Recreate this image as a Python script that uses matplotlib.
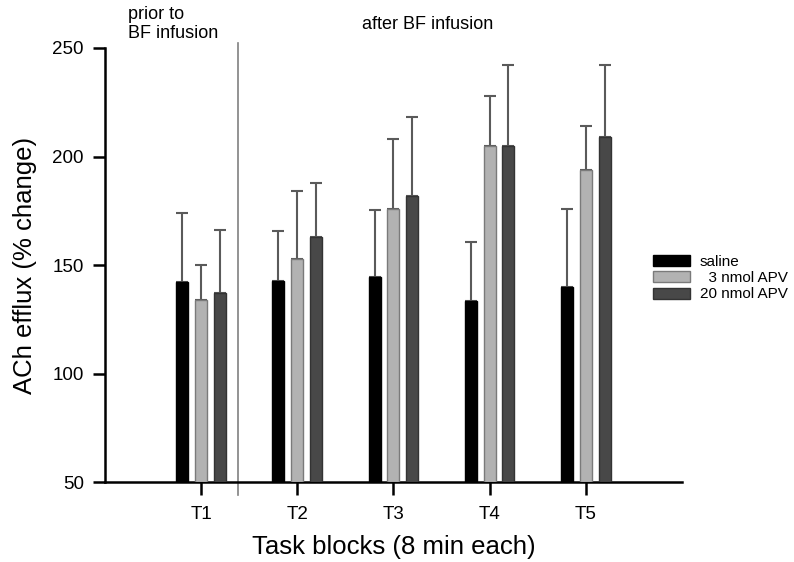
import matplotlib.pyplot as plt
import numpy as np

plt.rcParams["font.family"] = ["Liberation Sans", "DejaVu Sans"]

blocks = ["T1", "T2", "T3", "T4", "T5"]
groups = ["saline", "  3 nmol APV", "20 nmol APV"]
saline = [142.3, 142.6, 144.3, 133.5, 140.0]
saline_top = [174.0, 165.5, 175.5, 160.5, 176.0]
apv3 = [134.0, 152.8, 176.0, 205.0, 194.0]
apv3_top = [150.0, 184.0, 208.0, 228.0, 214.0]
apv20 = [137.0, 163.0, 182.0, 205.0, 209.0]
apv20_top = [166.0, 188.0, 218.0, 242.0, 242.0]

colors = ["#000000", "#b2b2b2", "#484848"]
edges = ["#000000", "#7a7a7a", "#333333"]


def main():
    fig = plt.figure(figsize=(7.94, 5.62), dpi=100)
    ax = fig.add_axes([0.132, 0.1423, 0.727, 0.7723])

    x = np.arange(1, len(blocks) + 1)
    width = 0.125
    offsets = [-0.195, 0.0, 0.195]
    series = [(saline, saline_top), (apv3, apv3_top), (apv20, apv20_top)]
    for i, (vals, tops) in enumerate(series):
        vals = np.array(vals)
        err = np.array(tops) - vals
        ax.bar(x + offsets[i], vals - 50, width, bottom=50, color=colors[i],
               edgecolor=edges[i], linewidth=1, label=groups[i], zorder=3)
        ax.errorbar(x + offsets[i], vals, yerr=[np.zeros_like(err), err],
                    fmt="none", ecolor="#5a5a5a", elinewidth=1.5,
                    capsize=4.5, capthick=1.5, zorder=2)

    ax.set_xlim(0, 6)
    ax.set_ylim(50, 250)
    ax.set_yticks([50, 100, 150, 200, 250])
    ax.set_xticks(x)
    ax.set_xticklabels(blocks)
    for s in ["top", "right"]:
        ax.spines[s].set_visible(False)
    for s in ["left", "bottom"]:
        ax.spines[s].set_linewidth(1.8)
    ax.tick_params(axis="y", direction="out", length=9, width=1.8,
                   labelsize=13.5, pad=6)
    ax.tick_params(axis="x", direction="out", length=9, width=1.8,
                   labelsize=13.5, pad=8)
    ax.set_ylabel("ACh efflux (% change)", fontsize=18.5, labelpad=11)
    ax.set_xlabel("Task blocks (8 min each)", fontsize=18.5, labelpad=9)

    # divider between baseline and post-infusion blocks
    ax.axvline(1.385, ymin=-0.03, ymax=1.012, color="#808080",
               linewidth=1.2, clip_on=False)

    fig.text(0.161, 0.989, "prior to\nBF infusion", fontsize=13,
             va="top", ha="left", linespacing=1.12)
    fig.text(0.456, 0.956, "after BF infusion", fontsize=13,
             va="center", ha="left")

    ax.legend(loc="center left", bbox_to_anchor=(0.815, 0.505),
              bbox_transform=fig.transFigure, frameon=False,
              fontsize=11, handlelength=2.4, handleheight=0.72,
              labelspacing=0.15, handletextpad=0.65, borderaxespad=0)

    fig.savefig("out.png", dpi=100)


if __name__ == "__main__":
    main()
